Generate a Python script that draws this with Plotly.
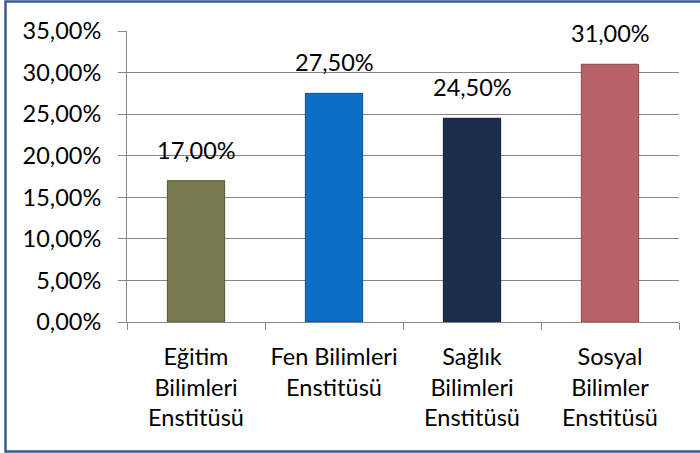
import plotly.graph_objects as go

categories = ["Eğitim<br>Bilimleri<br>Enstitüsü", "Fen Bilimleri<br>Enstitüsü",
              "Sağlık<br>Bilimleri<br>Enstitüsü", "Sosyal<br>Bilimler<br>Enstitüsü"]
values = [0.17, 0.275, 0.245, 0.31]
colors = ["#7A7A52", "#0A6EC4", "#1B2E4E", "#B96266"]
edge_colors = ["#55553A", "#07508F", "#101C30", "#8A4448"]

FONT = "Lato, Carlito, Calibri, sans-serif"
FS = 23.5

fig = go.Figure(go.Bar(
    x=categories, y=values,
    marker=dict(color=colors, line=dict(color=edge_colors, width=1)),
    cliponaxis=False,
))

for c, v in zip(categories, values):
    fig.add_annotation(x=c, y=v, text=f"{v * 100:.2f}%".replace(".", ","),
                       showarrow=False, yanchor="bottom", yshift=15,
                       font=dict(family=FONT, size=FS, color="#000000"))

W, H = 700, 453
L, R, T, B = 127, 21, 31, 131
pw, ph = W - L - R, H - T - B

fig.update_layout(
    width=W, height=H,
    margin=dict(l=L, r=R, t=T, b=B, autoexpand=False),
    paper_bgcolor="white", plot_bgcolor="white",
    separators=", ",
    bargap=0.585,
    showlegend=False,
    font=dict(family=FONT, size=FS, color="#000000"),
    xaxis=dict(
        automargin=False,
        showline=True, linecolor="#868686", linewidth=1,
        ticks="outside", ticklen=7, tickcolor="#868686", tickson="boundaries",
        tickfont=dict(family=FONT, size=FS), ticklabelstandoff=14,
    ),
    yaxis=dict(
        automargin=False,
        range=[0, 0.35], dtick=0.05, tickformat=".2%",
        showgrid=True, gridcolor="#868686", gridwidth=1,
        showline=True, linecolor="#868686", linewidth=1,
        ticks="outside", ticklen=8, tickcolor="#868686",
        tickfont=dict(family=FONT, size=FS), ticklabelstandoff=12,
        zeroline=False,
    ),
    shapes=[dict(
        type="rect", xref="paper", yref="paper",
        x0=(5.5 - L) / pw, x1=(W + 5 - L) / pw,
        y0=-(H - 1.5 - T - ph) / ph, y1=(H - 1.5 - B) / ph,
        line=dict(color="#3B5A8E", width=2.5), fillcolor="rgba(0,0,0,0)", layer="above",
    )],
)

fig.write_html("out.html", config={"displayModeBar": False},
               post_script="document.body.style.margin='0';document.body.style.overflow='hidden';")
